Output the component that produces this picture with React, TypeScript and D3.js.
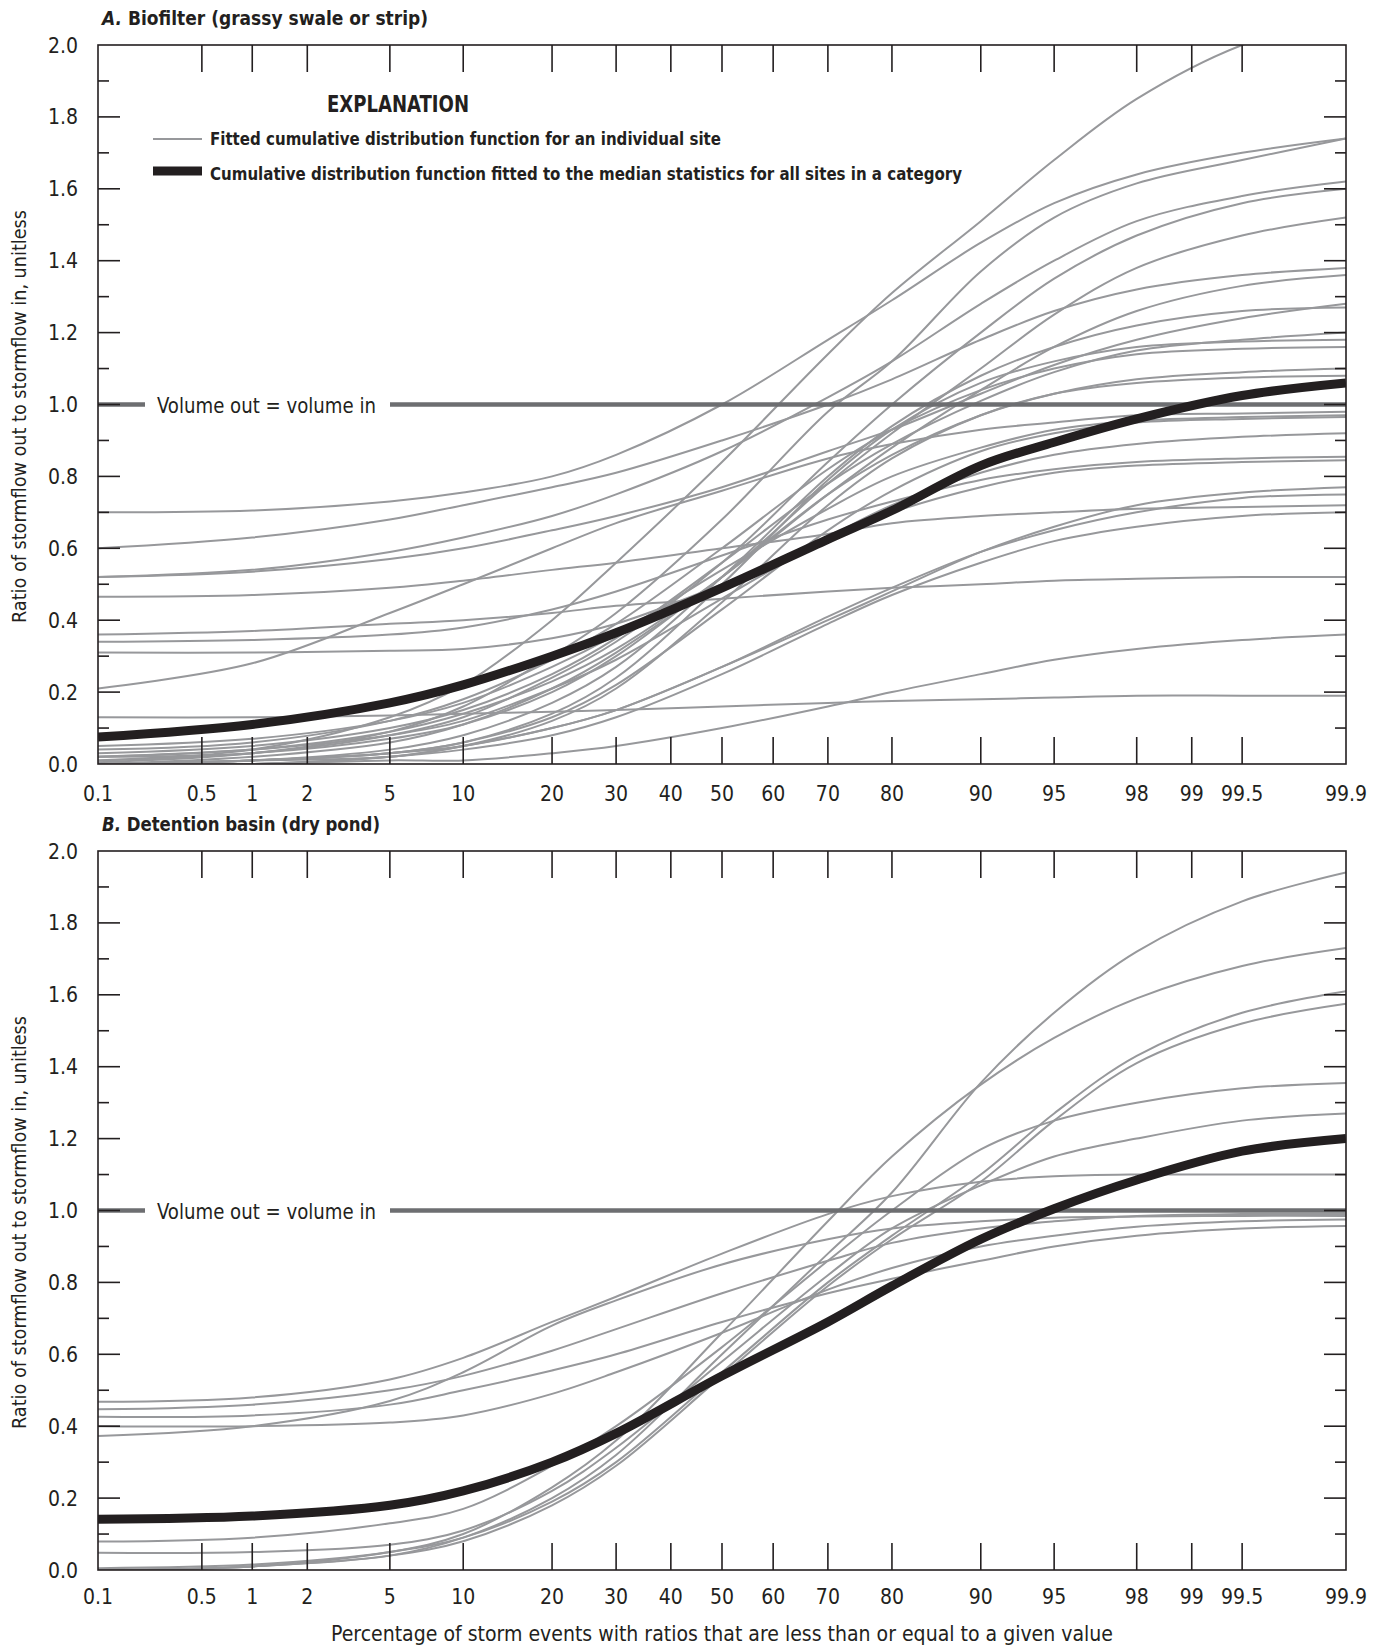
import React from 'react'
import * as d3 from 'd3'

const PCT = [0.1, 1, 5, 10, 20, 30, 50, 70, 80, 90, 95, 98, 99.5, 99.9]

const X_TICKS = [0.1, 0.5, 1, 2, 5, 10, 20, 30, 40, 50, 60, 70, 80, 90, 95, 98, 99, 99.5, 99.9]
const X_TICK_LABELS = ['0.1', '0.5', '1', '2', '5', '10', '20', '30', '40', '50', '60', '70', '80', '90', '95', '98', '99', '99.5', '99.9']
const Y_TICKS = d3.range(0, 21).map(i => i / 10)
const Y_TICK_LABELS = ['0.0', '0.2', '0.4', '0.6', '0.8', '1.0', '1.2', '1.4', '1.6', '1.8', '2.0']

// A. Biofilter -- one row per site, values at PCT
const biofilterSites = [
  [0.01, 0.04, 0.13, 0.22, 0.40, 0.56, 0.84, 1.14, 1.31, 1.51, 1.68, 1.85, 2.00, 2.08],
  [0.70, 0.705, 0.73, 0.755, 0.80, 0.86, 1.00, 1.18, 1.29, 1.45, 1.56, 1.64, 1.70, 1.74],
  [0.005, 0.03, 0.09, 0.16, 0.30, 0.42, 0.68, 0.98, 1.12, 1.37, 1.52, 1.615, 1.68, 1.74],
  [0.52, 0.54, 0.59, 0.63, 0.69, 0.75, 0.87, 1.02, 1.12, 1.28, 1.40, 1.51, 1.58, 1.62],
  [0.52, 0.535, 0.57, 0.60, 0.65, 0.69, 0.77, 0.87, 0.93, 1.03, 1.11, 1.18, 1.24, 1.28],
  [0.60, 0.63, 0.68, 0.72, 0.77, 0.81, 0.90, 1.00, 1.07, 1.18, 1.26, 1.32, 1.36, 1.38],
  [0.465, 0.47, 0.49, 0.51, 0.54, 0.56, 0.60, 0.64, 0.67, 0.69, 0.70, 0.71, 0.715, 0.72],
  [0.36, 0.37, 0.39, 0.40, 0.42, 0.44, 0.46, 0.48, 0.49, 0.50, 0.51, 0.515, 0.52, 0.52],
  [0.34, 0.345, 0.36, 0.38, 0.43, 0.48, 0.58, 0.68, 0.73, 0.79, 0.82, 0.84, 0.85, 0.855],
  [0.31, 0.31, 0.315, 0.32, 0.35, 0.39, 0.50, 0.63, 0.70, 0.77, 0.81, 0.83, 0.84, 0.845],
  [0.21, 0.28, 0.42, 0.50, 0.60, 0.67, 0.76, 0.85, 0.89, 0.93, 0.95, 0.97, 0.975, 0.98],
  [0.13, 0.13, 0.135, 0.14, 0.145, 0.15, 0.16, 0.17, 0.175, 0.18, 0.185, 0.19, 0.19, 0.19],
  [0.01, 0.03, 0.08, 0.13, 0.24, 0.34, 0.56, 0.84, 1.00, 1.20, 1.35, 1.47, 1.56, 1.60],
  [0.0, 0.02, 0.06, 0.11, 0.21, 0.31, 0.52, 0.78, 0.92, 1.10, 1.25, 1.38, 1.47, 1.52],
  [0.02, 0.04, 0.09, 0.14, 0.23, 0.32, 0.52, 0.75, 0.88, 1.04, 1.16, 1.26, 1.33, 1.36],
  [0.0, 0.01, 0.04, 0.08, 0.17, 0.27, 0.52, 0.80, 0.94, 1.08, 1.16, 1.22, 1.26, 1.27],
  [0.03, 0.05, 0.10, 0.15, 0.25, 0.35, 0.56, 0.78, 0.89, 1.01, 1.09, 1.15, 1.18, 1.20],
  [0.0, 0.01, 0.03, 0.06, 0.14, 0.24, 0.50, 0.79, 0.93, 1.06, 1.12, 1.16, 1.175, 1.18],
  [0.04, 0.06, 0.12, 0.18, 0.29, 0.39, 0.60, 0.82, 0.93, 1.04, 1.10, 1.14, 1.155, 1.16],
  [0.02, 0.03, 0.07, 0.11, 0.20, 0.30, 0.52, 0.75, 0.86, 0.97, 1.03, 1.07, 1.09, 1.10],
  [0.0, 0.01, 0.02, 0.05, 0.12, 0.21, 0.45, 0.72, 0.85, 0.97, 1.03, 1.06, 1.075, 1.08],
  [0.05, 0.07, 0.12, 0.17, 0.27, 0.36, 0.54, 0.71, 0.80, 0.88, 0.93, 0.955, 0.965, 0.97],
  [0.0, 0.01, 0.03, 0.06, 0.13, 0.22, 0.43, 0.65, 0.76, 0.87, 0.92, 0.95, 0.96, 0.965],
  [0.02, 0.04, 0.08, 0.12, 0.21, 0.29, 0.46, 0.63, 0.72, 0.81, 0.86, 0.89, 0.91, 0.92],
  [0.0, 0.0, 0.02, 0.05, 0.10, 0.15, 0.27, 0.40, 0.48, 0.59, 0.66, 0.72, 0.755, 0.77],
  [0.0, 0.01, 0.03, 0.05, 0.10, 0.15, 0.27, 0.41, 0.49, 0.59, 0.65, 0.70, 0.74, 0.75],
  [0.0, 0.0, 0.02, 0.04, 0.08, 0.13, 0.25, 0.39, 0.47, 0.56, 0.62, 0.66, 0.69, 0.70],
  [0.0, 0.0, 0.01, 0.01, 0.03, 0.05, 0.10, 0.16, 0.20, 0.25, 0.29, 0.32, 0.345, 0.36],
]
const biofilterMedian = [0.075, 0.11, 0.17, 0.22, 0.30, 0.365, 0.49, 0.625, 0.705, 0.83, 0.895, 0.96, 1.025, 1.06]

// B. Detention basin
const detentionSites = [
  [0.0, 0.01, 0.04, 0.09, 0.20, 0.32, 0.60, 0.88, 1.05, 1.355, 1.55, 1.72, 1.86, 1.94],
  [0.0, 0.01, 0.05, 0.10, 0.23, 0.36, 0.66, 0.97, 1.15, 1.35, 1.48, 1.59, 1.68, 1.73],
  [0.005, 0.015, 0.05, 0.09, 0.19, 0.30, 0.55, 0.80, 0.93, 1.10, 1.27, 1.43, 1.55, 1.61],
  [0.0, 0.01, 0.04, 0.08, 0.18, 0.29, 0.54, 0.79, 0.92, 1.08, 1.25, 1.41, 1.52, 1.575],
  [0.079, 0.09, 0.13, 0.17, 0.29, 0.40, 0.62, 0.86, 1.00, 1.17, 1.25, 1.30, 1.34, 1.355],
  [0.048, 0.05, 0.07, 0.11, 0.22, 0.34, 0.58, 0.82, 0.95, 1.07, 1.15, 1.20, 1.25, 1.27],
  [0.468, 0.48, 0.53, 0.59, 0.69, 0.76, 0.88, 0.99, 1.04, 1.08, 1.095, 1.10, 1.10, 1.10],
  [0.373, 0.40, 0.47, 0.55, 0.68, 0.75, 0.85, 0.92, 0.95, 0.97, 0.98, 0.983, 0.985, 0.985],
  [0.447, 0.46, 0.50, 0.54, 0.61, 0.67, 0.77, 0.86, 0.91, 0.95, 0.97, 0.985, 0.99, 0.99],
  [0.426, 0.43, 0.46, 0.50, 0.555, 0.60, 0.69, 0.77, 0.81, 0.86, 0.90, 0.93, 0.95, 0.957],
  [0.40, 0.40, 0.41, 0.43, 0.49, 0.55, 0.66, 0.78, 0.84, 0.90, 0.93, 0.955, 0.97, 0.975],
]
const detentionMedian = [0.141, 0.15, 0.18, 0.22, 0.30, 0.38, 0.54, 0.69, 0.79, 0.92, 1.005, 1.085, 1.165, 1.20]

const FONT = '"Liberation Sans Narrow", "Arial Narrow", "DejaVu Sans Condensed", "Roboto Condensed", "Liberation Sans", sans-serif'
const INK = '#231f20'
const GRAY = '#97989b'

const X0 = 98
const X1 = 1346
const PLOT_H = 719

// inverse standard normal CDF (Acklam) -- for the probability axis
function probit (p: number): number {
  const a = [-39.69683028665376, 220.9460984245205, -275.9285104469687, 138.357751867269, -30.66479806614716, 2.506628277459239]
  const b = [-54.47609879822406, 161.5858368580409, -155.6989798598866, 66.80131188771972, -13.28068155288572]
  const c = [-0.007784894002430293, -0.3223964580411365, -2.400758277161838, -2.549732539343734, 4.374664141464968, 2.938163982698783]
  const d = [0.007784695709041462, 0.3224671290700398, 2.445134137142996, 3.754408661907416]
  const plow = 0.02425
  if (p < plow) {
    const q = Math.sqrt(-2 * Math.log(p))
    return (((((c[0] * q + c[1]) * q + c[2]) * q + c[3]) * q + c[4]) * q + c[5]) / ((((d[0] * q + d[1]) * q + d[2]) * q + d[3]) * q + 1)
  }
  if (p <= 1 - plow) {
    const q = p - 0.5
    const r = q * q
    return (((((a[0] * r + a[1]) * r + a[2]) * r + a[3]) * r + a[4]) * r + a[5]) * q / (((((b[0] * r + b[1]) * r + b[2]) * r + b[3]) * r + b[4]) * r + 1)
  }
  const q = Math.sqrt(-2 * Math.log(1 - p))
  return -(((((c[0] * q + c[1]) * q + c[2]) * q + c[3]) * q + c[4]) * q + c[5]) / ((((d[0] * q + d[1]) * q + d[2]) * q + d[3]) * q + 1)
}

type PanelProps = {
  top: number
  letter: string
  title: string
  titleWidth: number
  sites: number[][]
  median: number[]
  labelGap: number
  legend?: boolean
}

function Panel ({ top, letter, title, titleWidth, sites, median, labelGap, legend }: PanelProps) {
  const x = d3.scaleLinear().domain([probit(0.001), probit(0.999)]).range([X0, X1])
  const px = (pct: number) => x(probit(pct / 100))
  const y = d3.scaleLinear().domain([0, 2]).range([top + PLOT_H, top])
  const line = d3.line<number>()
    .x((_, i) => px(PCT[i]))
    .y(v => y(v))
    .curve(d3.curveCatmullRom.alpha(0.5))
  const bottom = top + PLOT_H
  const clipId = `clip-${letter}`
  const y1 = y(1)

  return (
    <g fontFamily={FONT}>
      <defs>
        <clipPath id={clipId}>
          <rect x={X0} y={top} width={X1 - X0} height={PLOT_H} />
        </clipPath>
      </defs>

      <text x={102} y={top - 20} fontSize={19} fontWeight='bold' fill={INK} textLength={titleWidth} lengthAdjust='spacingAndGlyphs'>
        <tspan fontStyle='italic'>{letter}.</tspan> {title}
      </text>

      <g clipPath={`url(#${clipId})`}>
        {sites.map((s, i) => (
          <path key={i} d={line(s) || ''} fill='none' stroke={GRAY} strokeWidth={2} />
        ))}
      </g>

      {/* volume out = volume in */}
      <line x1={X0} x2={145} y1={y1} y2={y1} stroke='#6d6e71' strokeWidth={4.5} />
      <line x1={390} x2={X1} y1={y1} y2={y1} stroke='#6d6e71' strokeWidth={4.5} />
      <text x={157} y={y1 + 8} fontSize={22} fill={INK} textLength={219} lengthAdjust='spacingAndGlyphs'>Volume out = volume in</text>

      <path d={line(median) || ''} fill='none' stroke={INK} strokeWidth={9} clipPath={`url(#${clipId})`} />

      {/* frame and ticks */}
      <rect x={X0} y={top} width={X1 - X0} height={PLOT_H} fill='none' stroke={INK} strokeWidth={1.6} />
      {X_TICKS.slice(1, -1).map(t => (
        <g key={t} stroke={INK} strokeWidth={1.6}>
          <line x1={px(t)} x2={px(t)} y1={top} y2={top + 27} />
          <line x1={px(t)} x2={px(t)} y1={bottom} y2={bottom - 27} />
        </g>
      ))}
      {Y_TICKS.slice(1, -1).map((t, i) => {
        const len = (i + 1) % 2 === 0 ? 22 : 11
        return (
          <g key={t} stroke={INK} strokeWidth={1.6}>
            <line x1={X0} x2={X0 + len} y1={y(t)} y2={y(t)} />
            <line x1={X1} x2={X1 - len} y1={y(t)} y2={y(t)} />
          </g>
        )
      })}

      {Y_TICK_LABELS.map((lab, i) => (
        <text key={lab} x={78} y={y(i * 0.2)} dy='0.36em' textAnchor='end' fontSize={21} fill={INK}>{lab}</text>
      ))}
      {X_TICKS.map((t, i) => (
        <text key={t} x={px(t)} y={bottom + labelGap} textAnchor='middle' fontSize={21} fill={INK}>{X_TICK_LABELS[i]}</text>
      ))}

      <text transform={`translate(26, ${(top + bottom) / 2 + 12}) rotate(-90)`} textAnchor='middle' fontSize={20} fill={INK}
        textLength={413} lengthAdjust='spacingAndGlyphs'>
        Ratio of stormflow out to stormflow in, unitless
      </text>

      {legend && (
        <g fill={INK} fontWeight='bold'>
          <text x={398} y={112} textAnchor='middle' fontSize={23} textLength={142} lengthAdjust='spacingAndGlyphs'>EXPLANATION</text>
          <line x1={153} x2={202} y1={139} y2={139} stroke={GRAY} strokeWidth={2} />
          <text x={210} y={145} fontSize={18.5} textLength={511} lengthAdjust='spacingAndGlyphs'>
            Fitted cumulative distribution function for an individual site
          </text>
          <rect x={153} y={166.5} width={49} height={9} />
          <text x={210} y={180} fontSize={18.5} textLength={752} lengthAdjust='spacingAndGlyphs'>
            Cumulative distribution function fitted to the median statistics for all sites in a category
          </text>
        </g>
      )}
    </g>
  )
}

export default function App () {
  return (
    <div style={{ position: 'absolute', left: 0, top: 0 }}>
      <svg width={1384} height={1648} viewBox='0 0 1384 1648' style={{ display: 'block', background: '#fff' }}>
        <Panel top={45} letter='A' title='Biofilter (grassy swale or strip)' titleWidth={326}
          sites={biofilterSites} median={biofilterMedian} labelGap={37} legend />
        <Panel top={851} letter='B' title='Detention basin (dry pond)' titleWidth={278}
          sites={detentionSites} median={detentionMedian} labelGap={34} />
        <text x={722} y={1641} textAnchor='middle' fontSize={21} fontFamily={FONT} fill={INK}
          textLength={782} lengthAdjust='spacingAndGlyphs'>
          Percentage of storm events with ratios that are less than or equal to a given value
        </text>
      </svg>
    </div>
  )
}
